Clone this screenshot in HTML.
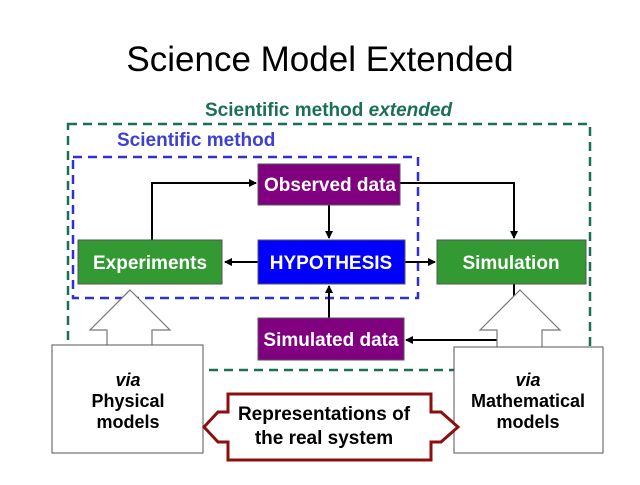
<!DOCTYPE html>
<html><head><style>
body{margin:0;background:#fff;width:640px;height:480px;overflow:hidden;font-family:"Liberation Sans",Arial,sans-serif}
</style></head><body>
<svg width="640" height="480" xmlns="http://www.w3.org/2000/svg" font-family="Liberation Sans, Arial, sans-serif">
<defs><marker id="a" markerWidth="8" markerHeight="8" refX="7" refY="4" orient="auto" markerUnits="userSpaceOnUse"><path d="M0,0 L8,4 L0,8 z" fill="#000"/></marker></defs>
<text x="320" y="71" font-size="35" text-anchor="middle">Science Model Extended</text>
<text x="205" y="116" font-size="19" font-weight="bold" fill="#1a7055">Scientific method <tspan font-style="italic">extended</tspan></text>
<rect x="68" y="124" width="522" height="246" fill="none" stroke="#1a7055" stroke-width="2.5" stroke-dasharray="9,6"/>
<text x="117" y="146" font-size="19" font-weight="bold" fill="#4040d0">Scientific method</text>
<rect x="73" y="157" width="345" height="141" fill="none" stroke="#3030d0" stroke-width="2.5" stroke-dasharray="9,6"/>
<g stroke="#000" stroke-width="2" fill="none">
<polyline points="152,240 152,183 256,183" marker-end="url(#a)"/>
<polyline points="400,183 514,183 514,238" marker-end="url(#a)"/>
<line x1="329" y1="205" x2="329" y2="238" marker-end="url(#a)"/>
<line x1="258" y1="262" x2="225" y2="262" marker-end="url(#a)"/>
<line x1="405" y1="262" x2="435" y2="262" marker-end="url(#a)"/>
<line x1="329" y1="318" x2="329" y2="286" marker-end="url(#a)"/>
<polyline points="514,284 514,340 406,340" marker-end="url(#a)"/>
</g>
<rect x="258" y="164" width="142" height="41" fill="#800080" stroke="#555"/>
<text x="330" y="191" font-size="19" font-weight="bold" fill="#fff" text-anchor="middle">Observed data</text>
<rect x="258" y="240" width="147" height="44" fill="#0000ff" stroke="#555"/>
<text x="331" y="269" font-size="19" font-weight="bold" fill="#fff" text-anchor="middle">HYPOTHESIS</text>
<rect x="78" y="240" width="144" height="44" fill="#339933" stroke="#555"/>
<text x="150" y="269" font-size="19" font-weight="bold" fill="#fff" text-anchor="middle">Experiments</text>
<rect x="437" y="240" width="149" height="44" fill="#339933" stroke="#555"/>
<text x="511" y="269" font-size="19" font-weight="bold" fill="#fff" text-anchor="middle">Simulation</text>
<rect x="258" y="318" width="146" height="42" fill="#800080" stroke="#555"/>
<text x="331" y="346" font-size="19" font-weight="bold" fill="#fff" text-anchor="middle">Simulated data</text>
<polygon points="130,290 170,330 152,330 152,346 107,346 107,330 90,330" fill="#fff" stroke="#777" stroke-width="1.2"/>
<polygon points="520,290 560,330 542,330 542,348 497,348 497,330 480,330" fill="#fff" stroke="#777" stroke-width="1.2"/>
<rect x="52" y="345" width="151" height="108" fill="#fff" stroke="#555"/>
<rect x="454" y="347" width="149" height="106" fill="#fff" stroke="#555"/>
<g font-size="18" font-weight="bold" text-anchor="middle">
<text x="128" y="386" font-style="italic">via</text>
<text x="128" y="407">Physical</text>
<text x="128" y="428">models</text>
<text x="528" y="386" font-style="italic">via</text>
<text x="528" y="407">Mathematical</text>
<text x="528" y="428">models</text>
</g>
<polygon points="228,394 431,394 431,412 441,412 458,427 441,442 431,442 431,460 228,460 228,442 218,442 204,427 218,412 228,412" fill="#fff" stroke="#8b0f0f" stroke-width="3"/>
<text x="324" y="420" font-size="19" font-weight="bold" text-anchor="middle">Representations of</text>
<text x="324" y="444" font-size="19" font-weight="bold" text-anchor="middle">the real system</text>
</svg>
</body></html>
